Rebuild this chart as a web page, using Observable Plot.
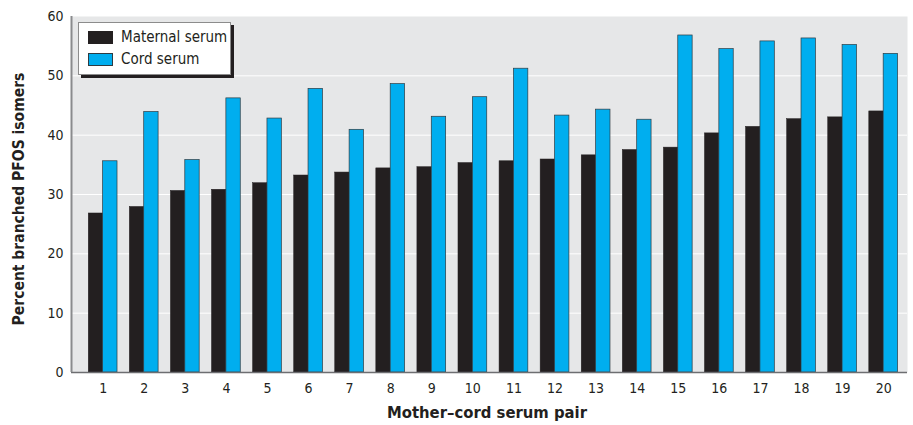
<!DOCTYPE html>
<html>
<head>
<meta charset="utf-8">
<script src="https://cdn.jsdelivr.net/npm/d3@7"></script>
<script src="https://cdn.jsdelivr.net/npm/@observablehq/plot@0.6"></script>
<style>
  html, body { margin: 0; padding: 0; background: #fff; }
  #wrap { position: relative; width: 913px; height: 425px; font-family: "Liberation Sans Narrow", "DejaVu Sans Condensed", "Arial Narrow", sans-serif; color: #231f20; }
  #chart svg { display: block; }
  #ytitle { position: absolute; left: 19px; top: 199px; transform: translate(-50%, -50%) rotate(-90deg); white-space: nowrap; font-weight: bold; font-size: 15.5px; }
  #xtitle { position: absolute; left: 0; top: 402px; width: 974px; text-align: center; font-weight: bold; font-size: 16.5px; line-height: 22px; white-space: nowrap; }
  #legend { position: absolute; left: 78px; top: 22px; width: 151px; height: 51px; background: #fff; border: 1px solid #8c8c8c; box-shadow: 3px 3px 0 #231f20; }
  .sw { position: absolute; left: 9px; width: 25px; height: 13px; box-sizing: border-box; }
  .lt { position: absolute; left: 42px; font-size: 15px; line-height: 17px; white-space: nowrap; }
</style>
</head>
<body>
<div id="wrap">
  <div id="chart"></div>
  <div id="ytitle"></div>
  <div id="xtitle"></div>
  <div id="legend"></div>
</div>
<script>
const pairs = [1, 2, 3, 4, 5, 6, 7, 8, 9, 10, 11, 12, 13, 14, 15, 16, 17, 18, 19, 20];
const maternal = [26.8, 27.9, 30.6, 30.8, 31.9, 33.2, 33.7, 34.4, 34.6, 35.3, 35.6, 35.9, 36.6, 37.5, 37.9, 40.3, 41.4, 42.7, 43.0, 44.0];
const cord = [35.6, 43.9, 35.8, 46.2, 42.8, 47.8, 40.9, 48.6, 43.1, 46.4, 51.2, 43.3, 44.3, 42.6, 56.8, 54.5, 55.8, 56.3, 55.2, 53.7];
const seriesNames = ["Maternal serum", "Cord serum"];
const seriesColors = ["#231f20", "#00aeef"];
const yTicks = [0, 10, 20, 30, 40, 50, 60];
const gridValues = [10, 20, 30, 40, 50];
const xDomain = [0.23, 20.58];
const yDomain = [0, 60];
const xTitle = "Mother–cord serum pair";
const yTitle = "Percent branched PFOS isomers";
const barHalf = 0.35;

const rows = pairs.map((p, i) => ({pair: p, maternal: maternal[i], cord: cord[i]}));

const chart = Plot.plot({
  width: 913,
  height: 400,
  marginLeft: 71,
  marginRight: 6,
  marginTop: 16,
  marginBottom: 28,
  style: {fontFamily: "'Liberation Sans Narrow', 'DejaVu Sans Condensed', 'Arial Narrow', sans-serif", fontSize: "14px", color: "#231f20", background: "#fff"},
  x: {domain: xDomain},
  y: {domain: yDomain},
  marks: [
    Plot.frame({fill: "#e6e7e8", stroke: null}),
    Plot.ruleY(gridValues, {stroke: "#ffffff", strokeWidth: 1}),
    Plot.rectY(rows, {x1: d => d.pair - barHalf, x2: d => d.pair, y: "maternal", fill: seriesColors[0], stroke: "#231f20", strokeWidth: 0.5}),
    Plot.rectY(rows, {x1: d => d.pair, x2: d => d.pair + barHalf, y: "cord", fill: seriesColors[1], stroke: "#2e3b42", strokeWidth: 0.7}),
    Plot.ruleY([yDomain[0]], {stroke: "#6d6e71", strokeWidth: 1.5}),
    Plot.ruleX([xDomain[0]], {stroke: "#8a8b8d", strokeWidth: 2}),
    Plot.axisX({ticks: pairs, tickSize: 0, tickPadding: 11, tickFormat: d => String(d), label: null, fontSize: 14}),
    Plot.axisY({ticks: yTicks, tickSize: 0, tickPadding: 8, label: null, fontSize: 14})
  ]
});
document.getElementById("chart").appendChild(chart);

document.getElementById("ytitle").textContent = yTitle;
document.getElementById("xtitle").textContent = xTitle;

const legend = document.getElementById("legend");
const swTops = [8, 30];
seriesNames.forEach((name, i) => {
  const sw = document.createElement("div");
  sw.className = "sw";
  sw.style.top = swTops[i] + "px";
  sw.style.background = seriesColors[i];
  sw.style.border = i === 1 ? "1px solid #2e3b42" : "none";
  legend.appendChild(sw);
  const t = document.createElement("div");
  t.className = "lt";
  t.style.top = (swTops[i] - 2) + "px";
  t.textContent = name;
  legend.appendChild(t);
});
</script>
</body>
</html>
